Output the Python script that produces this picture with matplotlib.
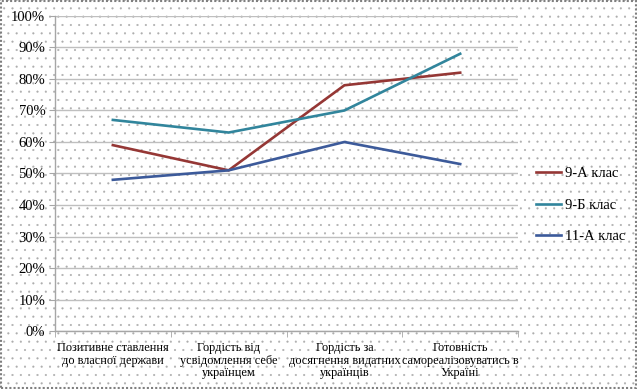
import numpy as np
import matplotlib.pyplot as plt
from matplotlib.patches import Rectangle

plt.rcParams['font.family'] = ['Liberation Serif', 'DejaVu Serif']
plt.rcParams['hatch.color'] = '#adadad'
plt.rcParams['hatch.linewidth'] = 0.3

categories = [
    "Позитивне ставлення\nдо власної держави",
    "Гордість від\nусвідомлення себе\nукраїнцем",
    "Гордість за\nдосягнення видатних\nукраїнців",
    "Готовність\nсамореалізовуватись в\nУкраїні",
]
series_names = ["9-А клас", "9-Б клас", "11-А клас"]
class_9a = [59, 51, 78, 82]
class_9b = [67, 63, 70, 88]
class_11a = [48, 51, 60, 53]
colors = ["#953735", "#31859C", "#3C5A9A"]


def Main():
    fig = plt.figure(figsize=(6.37, 3.89), dpi=100)
    fig.patch.set_facecolor('white')
    fig.patch.set_hatch('..')
    fig.patch.set_edgecolor('#adadad')
    fig.patch.set_linewidth(0)

    # dotted outer frame
    fig.add_artist(Rectangle((0.002, 0.003), 0.996, 0.994, transform=fig.transFigure,
                             fill=False, edgecolor='#7f7f7f', linewidth=1.5,
                             linestyle=(0, (1, 1))))

    ax = fig.add_axes([0.0863, 0.149, 0.727, 0.810])
    ax.set_facecolor('none')

    x = np.arange(len(categories))
    for vals, name, c in zip([class_9a, class_9b, class_11a], series_names, colors):
        ax.plot(x, vals, color=c, linewidth=1.9, label=name, solid_joinstyle='miter')

    ax.set_xlim(-0.5, len(categories) - 0.5)
    ax.set_ylim(0, 100)
    ax.set_yticks(np.arange(0, 101, 10))
    ax.set_yticklabels([f"{v}%" for v in range(0, 101, 10)], fontsize=10.5)
    ax.yaxis.grid(True, color='#bfbfbf', linewidth=1)
    ax.set_axisbelow(True)

    ax.set_xticks(x)
    ax.set_xticklabels(categories, fontsize=8.8, linespacing=1.05)
    ax.set_xticks(np.arange(-0.5, len(categories), 1), minor=True)
    ax.tick_params(axis='x', which='major', length=0, pad=8)
    ax.tick_params(axis='x', which='minor', length=4, color='#a6a6a6', direction='out')
    ax.tick_params(axis='y', length=4, color='#a6a6a6', direction='out', pad=3)

    for s in ['top', 'right']:
        ax.spines[s].set_visible(False)
    for s in ['left', 'bottom']:
        ax.spines[s].set_color('#a6a6a6')
        ax.spines[s].set_linewidth(1)

    ax.legend(loc='center left', bbox_to_anchor=(1.01, 0.40), frameon=False,
              fontsize=10.5, handlelength=1.7, labelspacing=1.25, handletextpad=0.3)

    fig.savefig("out.png", dpi=100, facecolor=fig.get_facecolor())
    return None


Main()
